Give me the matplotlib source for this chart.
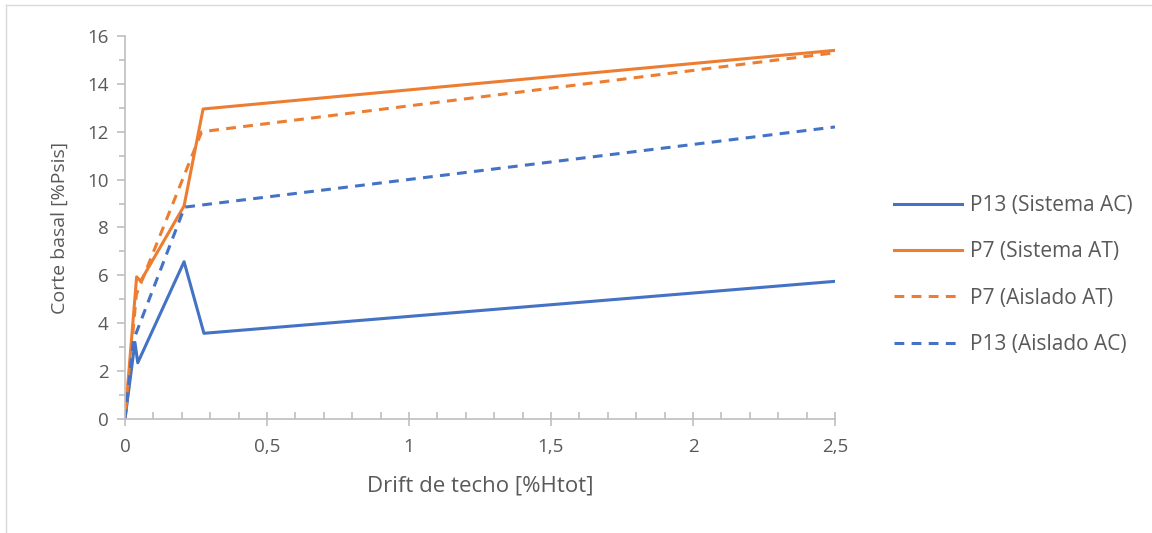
import matplotlib.pyplot as plt
from matplotlib.ticker import MultipleLocator, FuncFormatter
from matplotlib.lines import Line2D

plt.rcParams['font.family'] = ['Open Sans', 'DejaVu Sans']

# drift [%Htot] vs basal shear [%Psis]
x_p13_sis = [0, 0.035, 0.045, 0.208, 0.278, 2.5]
y_p13_sis = [0, 3.2, 2.35, 6.57, 3.58, 5.75]

x_p7_sis = [0, 0.041, 0.055, 0.208, 0.275, 2.5]
y_p7_sis = [0, 5.94, 5.76, 8.9, 12.95, 15.4]

x_p7_ais = [0, 0.04, 0.27, 2.5]
y_p7_ais = [0, 5.2, 12.0, 15.3]

x_p13_ais = [0, 0.03, 0.21, 2.5]
y_p13_ais = [0, 3.3, 8.85, 12.2]

blue = "#4472C4"
orange = "#ED7D31"
gray = "#595959"

fig = plt.figure(figsize=(11.52, 5.33), dpi=100)
ax = fig.add_axes([0.1085, 0.2139, 0.6163, 0.7186])

lw = 2.2
dash = (3.2, 2.4)
ax.plot(x_p13_sis, y_p13_sis, color=blue, lw=lw, label="P13 (Sistema AC)")
ax.plot(x_p7_sis, y_p7_sis, color=orange, lw=lw, label="P7 (Sistema AT)")
ax.plot(x_p7_ais, y_p7_ais, color=orange, lw=lw, dashes=dash, label="P7 (Aislado AT)")
ax.plot(x_p13_ais, y_p13_ais, color=blue, lw=lw, dashes=dash, label="P13 (Aislado AC)")

ax.set_xlim(0, 2.5)
ax.set_ylim(0, 16)
ax.xaxis.set_major_locator(MultipleLocator(0.5))
ax.xaxis.set_minor_locator(MultipleLocator(0.1))
ax.yaxis.set_major_locator(MultipleLocator(2))
ax.yaxis.set_minor_locator(MultipleLocator(1))

def comma(v, pos):
    return ("%g" % v).replace(".", ",")

ax.xaxis.set_major_formatter(FuncFormatter(comma))

for s in ["top", "right"]:
    ax.spines[s].set_visible(False)
for s in ["left", "bottom"]:
    ax.spines[s].set_color("#bfbfbf")
    ax.spines[s].set_linewidth(1.2)

ax.tick_params(axis="x", which="major", direction="inout", length=10, width=1.2,
               color="#bfbfbf", labelcolor=gray, labelsize=13.5, pad=9)
ax.tick_params(axis="x", which="minor", direction="in", length=5, width=1.2, color="#bfbfbf")
ax.tick_params(axis="y", which="major", direction="out", length=6, width=1.2,
               color="#bfbfbf", labelcolor=gray, labelsize=13.5, pad=6)
ax.tick_params(axis="y", which="minor", direction="out", length=4, width=1.2, color="#bfbfbf")

ax.set_xlabel("Drift de techo [%Htot]", fontsize=16, color=gray, labelpad=14)
ax.set_ylabel("Corte basal [%Psis]", fontsize=14, color=gray, labelpad=13)

leg = fig.legend(loc="center left", bbox_to_anchor=(0.767, 0.484), frameon=False,
                 fontsize=15, handlelength=3.27, labelspacing=1.22, handletextpad=0.4,
                 borderpad=0)
for t in leg.get_texts():
    t.set_color(gray)

# chart area border
fig.add_artist(Line2D([0.005, 0.005], [0, 0.99], transform=fig.transFigure, color="#d9d9d9", lw=1))
fig.add_artist(Line2D([0.005, 1], [0.99, 0.99], transform=fig.transFigure, color="#d9d9d9", lw=1))

fig.savefig("out.png", dpi=100)
